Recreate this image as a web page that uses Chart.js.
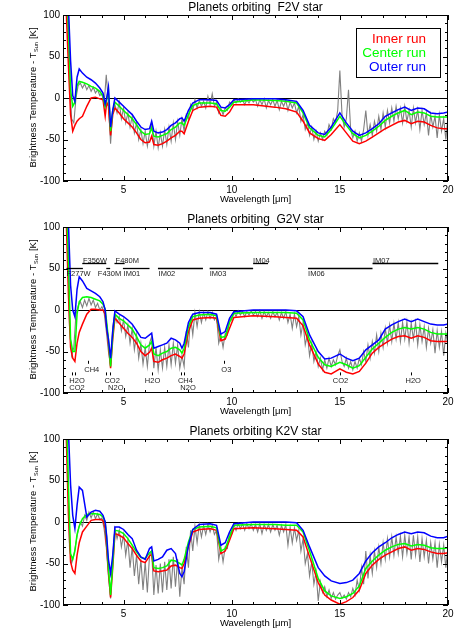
<!DOCTYPE html>
<html>
<head>
<meta charset="utf-8">
<script src="https://cdn.jsdelivr.net/npm/chart.js@4.4.1/dist/chart.umd.min.js"></script>
<style>
html, body { margin: 0; padding: 0; background: #fff; }
canvas { position: absolute; left: 0; }
</style>
</head>
<body>
<canvas id="c0" width="463" height="212" style="top:0"></canvas>
<canvas id="c1" width="463" height="212" style="top:212px"></canvas>
<canvas id="c2" width="463" height="212" style="top:424px"></canvas>
<script>
// wavelength grid for the smoothed runs (um)
const wl = [
  2.25, 2.35, 2.45, 2.55, 2.65, 2.75, 2.85, 2.95,
  3.1, 3.3, 3.5, 3.7, 3.9, 4.05, 4.15, 4.22, 4.3, 4.4, 4.5, 4.6,
  4.8, 5.0, 5.2, 5.4, 5.6, 5.8, 6.0, 6.2, 6.3, 6.4, 6.6, 6.8, 7.0, 7.2, 7.4, 7.6, 7.7, 7.8, 8.0, 8.2, 8.5,
  9.0, 9.3, 9.5, 9.7, 9.9, 10.1, 11, 12, 12.5,
  13, 13.3, 13.6, 14.0, 14.3, 14.6, 15.0, 15.3, 15.6, 15.9, 16.2, 16.5, 16.8, 17.1, 17.4, 17.7, 18.0, 18.3, 18.6, 18.9, 19.2, 19.5, 19.8, 20.0
];

// F2V
const f2vOuter = [
  200, 170, 110, 45, 3, -4, 25, 35,
  30, 25, 22, 18, 12, 6, -7, 0, 13, -35, -15, 0,
  -5, -10, -15, -20, -28, -35, -38, -37, -28, -40, -42, -41, -38, -33, -30, -25, -24, -28, -15, -6, -2,
  -2, -3, -11, -12, -8, -2, -1, -1, -2,
  -4, -15, -33, -42, -44, -35, -18, -30, -40, -45, -42, -37, -31, -22, -18, -14, -11, -15, -12, -13, -18, -19, -18, -17
];
const f2vCenter = [
  190, 150, 85, 10, -10, -5, 15, 20,
  19, 17, 14, 12, 8, 2, -10, -2, 10, -40, -15, -5,
  -10, -15, -20, -25, -32, -40, -44, -43, -36, -46, -47, -45, -43, -38, -35, -30, -30, -33, -20, -9, -6,
  -6, -7, -15, -16, -11, -5, -2, -3, -4,
  -6, -18, -36, -45, -47, -38, -22, -33, -43, -48, -45, -40, -34, -27, -22, -18, -15, -20, -17, -18, -22, -23, -23, -23
];
const f2vInner = [
  180, 105, 40, -20, -40, -33, -28, -25,
  -22, -10, 0, 1, -1, -2, -22, -5, -10, -45, -20, -12,
  -18, -25, -30, -35, -42, -50, -54, -53, -46, -56, -57, -55, -52, -48, -45, -40, -40, -43, -28, -15, -11,
  -10, -11, -21, -22, -17, -8, -8, -11, -13,
  -17, -28, -42, -49, -51, -44, -32, -42, -52, -55, -52, -47, -42, -37, -33, -29, -27, -31, -28, -29, -33, -36, -37, -37
];

// G2V
const g2vOuter = [
  200, 170, 105, 30, 0, -8, 25, 40,
  35, 26, 23, 20, 16, 10, 0, -22, -35, -58, -25, -1,
  -5, -8, -12, -17, -25, -33, -34, -30, -28, -46, -44, -42, -40, -34, -36, -40, -46, -40, -15, -5, -3,
  -3, -5, -29, -26, -10, -2, 0, 0, 0,
  -1, -8, -30, -50, -59, -58, -53, -58, -61, -58, -48, -42, -36, -23, -18, -14, -11, -14, -11, -14, -17, -18, -18, -17
];
const g2vCenter = [
  190, 140, 60, -35, -50, -50, -5, 10,
  15, 16, 15, 13, 11, 7, 1, -15, -35, -68, -30, -5,
  -10, -13, -18, -23, -32, -42, -46, -42, -38, -53, -55, -52, -50, -46, -45, -48, -52, -46, -20, -8, -6,
  -5, -7, -33, -32, -15, -4, -3, -3, -3,
  -4, -12, -36, -57, -66, -68, -63, -66, -70, -67, -57, -47, -40, -33, -27, -23, -21, -23, -21, -23, -27, -29, -29, -29
];
const g2vInner = [
  180, 110, 20, -45, -58, -62, -40, -27,
  -17, -5, 1, 1, 0, 0, -5, -20, -40, -70, -35, -10,
  -16, -22, -28, -33, -40, -50, -55, -51, -46, -62, -63, -60, -58, -55, -53, -56, -58, -53, -26, -12, -10,
  -9, -10, -37, -35, -22, -9, -7, -8, -9,
  -10, -19, -42, -65, -75, -77, -71, -75, -77, -74, -64, -52, -45, -40, -35, -32, -31, -34, -31, -33, -37, -38, -38, -38
];

// K2V
const k2vOuter = [
  200, 170, 110, 45, 8, -8, 20, 42,
  38, 6, 12, 14, 13, 8, 0, -17, -45, -62, -40, -6,
  -6, -9, -15, -20, -34, -42, -45, -32, -30, -47, -45, -42, -34, -32, -38, -62, -66, -60, -28, -9, -3,
  -2, -4, -28, -25, -12, -2, 0, 0, 0,
  -1, -10, -30, -55, -65, -71, -74, -73, -70, -62, -47, -37, -30, -25, -19, -15, -12, -14, -12, -13, -17, -19, -19, -17
];
const k2vCenter = [
  190, 140, 45, -38, -45, -35, -15, -5,
  4, 9, 10, 10, 9, 6, 0, -20, -55, -88, -50, -10,
  -11, -14, -20, -28, -36, -43, -44, -37, -35, -55, -56, -55, -53, -46, -47, -50, -52, -45, -24, -9, -6,
  -5, -7, -35, -32, -18, -4, -3, -3, -4,
  -4, -12, -35, -68, -83, -89, -92, -90, -86, -77, -56, -47, -40, -34, -30, -27, -26, -29, -27, -28, -31, -32, -32, -31
];
const k2vInner = [
  180, 105, 10, -48, -58, -62, -40, -25,
  -12, -5, 2, 3, 3, 2, -8, -30, -60, -91, -55, -14,
  -16, -19, -26, -32, -40, -47, -49, -41, -39, -59, -60, -59, -58, -53, -52, -55, -56, -50, -29, -12, -9,
  -8, -10, -38, -35, -22, -8, -7, -8, -9,
  -10, -18, -42, -73, -88, -94, -99, -96, -91, -82, -62, -52, -45, -40, -36, -32, -30, -34, -32, -33, -36, -38, -38, -37
];

// wavelength grid for the full-resolution spectra (um)
const gx = [
  2.3, 2.4, 2.5, 2.6, 2.7, 2.8, 2.9,
  3.0, 3.1, 3.2, 3.3, 3.4, 3.5, 3.6, 3.7, 3.8, 3.9,
  4.0, 4.1, 4.2, 4.3, 4.4, 4.5, 4.6, 4.7, 4.8, 4.9,
  5.0, 5.1, 5.2, 5.3, 5.4, 5.5, 5.6, 5.7, 5.8, 5.9,
  6.0, 6.1, 6.2, 6.3, 6.4, 6.5, 6.6, 6.7, 6.8, 6.9,
  7.0, 7.1, 7.2, 7.3, 7.4, 7.5, 7.6, 7.7, 7.8, 7.9,
  8.0, 8.1, 8.2, 8.3, 8.4, 8.5, 8.6, 8.7, 8.8, 8.9,
  9.0, 9.1, 9.2, 9.3, 9.4, 9.5, 9.6, 9.7, 9.8, 9.9,
  10.0, 10.1, 10.2, 10.3, 10.4, 10.5, 10.6, 10.7, 10.8, 10.9,
  11.0, 11.1, 11.2, 11.3, 11.4, 11.5, 11.6, 11.7, 11.8, 11.9,
  12.0, 12.1, 12.2, 12.3, 12.4, 12.5, 12.6, 12.7, 12.8, 12.9,
  13.0, 13.1, 13.2, 13.3, 13.4, 13.5, 13.6, 13.7, 13.8, 13.9,
  14.0, 14.1, 14.2, 14.3, 14.4, 14.5, 14.6, 14.7, 14.8, 14.9,
  15.0, 15.1, 15.2, 15.3, 15.4, 15.5, 15.6, 15.7, 15.8, 15.9,
  16.0, 16.1, 16.2, 16.3, 16.4, 16.5, 16.6, 16.7, 16.8, 16.9,
  17.0, 17.1, 17.2, 17.3, 17.4, 17.5, 17.6, 17.7, 17.8, 17.9,
  18.0, 18.1, 18.2, 18.3, 18.4, 18.5, 18.6, 18.7, 18.8, 18.9,
  19.0, 19.1, 19.2, 19.3, 19.4, 19.5, 19.6, 19.7, 19.8, 19.9,
  20.0
];
const f2vSpec = [
  150, 110, 20, -25, -30, 0, 15,
  18, 12, 17, 10, 15, 8, 13, 6, 10, 3,
  5, -8, 28, -5, -55, -15, -8, -18, -5, -25,
  -12, -30, -18, -35, -22, -42, -30, -50, -38, -55,
  -40, -58, -42, -30, -58, -40, -60, -42, -58, -38,
  -56, -35, -52, -30, -50, -28, -45, -25, -40, -20,
  -25, -8, -15, -2, -12, -3, -10, -4, -12, 2,
  -8, 5, -10, -5, -18, -12, -20, -12, -15, -5,
  -8, -2, -6, -1, -5, -2, -8, -2, -6, -1,
  -5, -2, -10, -2, -8, -1, -12, -3, -8, -2,
  -10, -3, -14, -4, -10, -3, -15, -5, -12, -6,
  -18, -10, -28, -20, -38, -30, -45, -35, -50, -40,
  -52, -42, -50, -40, -45, -32, -38, -25, -30, -15,
  33, -20, -35, -25, 10, -38, -48, -40, -52, -42,
  -52, -38, -15, -45, -32, -45, -28, -40, -22, -38,
  -18, -35, -15, -30, -12, -28, -10, -25, -12, -30,
  -10, -28, -15, -35, -12, -30, -14, -38, -15, -32,
  -18, -45, -20, -35, -22, -48, -20, -40, -25, -50,
  -22
];
const g2vSpec = [
  150, 100, -20, -55, -45, -5, 5,
  10, 3, 12, 5, 14, 6, 12, 3, 8, 0,
  4, -3, -25, -50, -68, -20, -5, -15, -8, -25,
  -12, -32, -18, -40, -22, -48, -30, -58, -40, -65,
  -45, -68, -40, -32, -70, -45, -72, -48, -70, -45,
  -68, -42, -66, -40, -64, -42, -70, -55, -68, -25,
  -45, -8, -30, -3, -20, -2, -15, -3, -12, -2,
  -10, -3, -12, -8, -40, -30, -45, -28, -30, -10,
  -12, -2, -8, -1, -6, -2, -8, -2, -6, -1,
  -6, -2, -8, -1, -10, -2, -8, -3, -10, -2,
  -8, -3, -12, -3, -10, -2, -15, -5, -22, -5,
  -20, -8, -30, -15, -42, -30, -55, -40, -62, -50,
  -68, -58, -72, -60, -70, -58, -68, -60, -66, -55,
  -48, -62, -68, -58, -70, -62, -72, -62, -70, -58,
  -66, -50, -62, -42, -58, -38, -52, -30, -50, -28,
  -45, -22, -40, -18, -38, -16, -35, -15, -38, -15,
  -35, -14, -40, -16, -35, -15, -42, -18, -38, -20,
  -45, -22, -40, -24, -52, -25, -45, -26, -55, -28,
  -42
];
const k2vSpec = [
  150, 90, -30, -50, -40, -25, -10,
  0, -5, 8, 2, 12, 5, 12, 4, 10, 3,
  5, -8, -30, -65, -92, -40, -8, -20, -10, -30,
  -15, -40, -22, -55, -30, -65, -40, -75, -45, -82,
  -48, -85, -40, -35, -88, -52, -86, -50, -85, -48,
  -82, -45, -80, -42, -78, -45, -90, -55, -75, -30,
  -55, -10, -35, -5, -25, -3, -18, -4, -15, -3,
  -12, -4, -15, -10, -45, -30, -48, -30, -32, -12,
  -14, -3, -10, -2, -8, -2, -10, -2, -8, -2,
  -10, -3, -12, -2, -14, -3, -10, -3, -12, -3,
  -10, -4, -16, -4, -12, -3, -28, -6, -25, -7,
  -22, -10, -35, -20, -50, -38, -65, -48, -75, -60,
  -95, -72, -85, -78, -90, -82, -92, -85, -93, -88,
  -85, -92, -88, -93, -85, -90, -80, -88, -70, -82,
  -55, -75, -35, -68, -40, -62, -35, -55, -30, -50,
  -25, -45, -20, -42, -18, -40, -18, -38, -17, -42,
  -16, -38, -18, -45, -16, -40, -18, -48, -20, -42,
  -22, -50, -25, -45, -25, -55, -27, -48, -28, -55,
  -30
];

// axis ticks
const xTicks = [5, 10, 15, 20];
const yTicks = [-100, -50, 0, 50, 100];

// JWST filter bands drawn on the G2V panel
const bandName  = ['F277W', 'F356W', 'F430M', 'F480M', 'IM01', 'IM02', 'IM03', 'IM04', 'IM06', 'IM07'];
const bandFrom  = [2.36, 3.09, 4.2, 4.58, 4.97, 6.59, 8.98, 10.99, 13.53, 16.51];
const bandTo    = [3.12, 4.2, 4.38, 5.05, 6.2, 8.67, 10.99, 11.68, 16.51, 19.55];
const bandLevel = [50, 56, 50, 56, 50, 50, 50, 56, 50, 56];
const bandTextX = [2.36, 3.12, 3.81, 4.63, 5.0, 6.62, 8.98, 10.99, 13.53, 16.53];

// molecule labels on the G2V panel
const molText = ['H2O', 'CO2', 'CH4', 'CO2', 'N2O', 'H2O', 'CH4', 'N2O', 'O3', 'CO2', 'H2O'];
const molX    = [2.85, 2.85, 3.53, 4.47, 4.64, 6.34, 7.86, 7.98, 9.75, 15.03, 18.39];
const molY    = [-85, -94, -72, -85, -94, -85, -85, -94, -72, -85, -85];
const molTickX = [2.6, 2.75, 3.35, 4.2, 4.38, 6.31, 7.67, 7.78, 9.63, 15.0, 18.31];
const molTickY = [-77, -77, -63, -77, -77, -77, -77, -77, -63, -77, -77];

const FONT = '"Liberation Sans", Arial, Helvetica, sans-serif';
Chart.defaults.font.family = FONT;
Chart.defaults.color = '#000';

const idlFrame = {
  id: 'idlFrame',
  beforeDatasetsDraw(chart) {
    const { ctx, chartArea: a, scales: { y } } = chart;
    const y0 = Math.round(y.getPixelForValue(0)) + 0.5;
    ctx.save();
    ctx.strokeStyle = '#000';
    ctx.lineWidth = 1;
    ctx.beginPath();
    ctx.moveTo(a.left, y0);
    ctx.lineTo(a.right, y0);
    ctx.stroke();
    ctx.restore();
  },
  afterDatasetsDraw(chart) {
    const { ctx, chartArea: a, scales: { x, y } } = chart;
    ctx.save();
    ctx.strokeStyle = '#000';
    ctx.lineWidth = 1;
    ctx.strokeRect(Math.round(a.left) + 0.5, Math.round(a.top) + 0.5,
                   Math.round(a.right - a.left) - 1, Math.round(a.bottom - a.top) - 1);
    ctx.beginPath();
    // y ticks, every 10 with major at 50
    for (let v = -100; v <= 100; v += 10) {
      const py = Math.round(y.getPixelForValue(v)) + 0.5;
      const len = v % 50 === 0 ? 5 : 3;
      ctx.moveTo(a.left, py); ctx.lineTo(a.left + len, py);
      ctx.moveTo(a.right, py); ctx.lineTo(a.right - len, py);
    }
    // x ticks, every 1 um with major at 5
    for (let v = Math.ceil(x.min); v <= x.max; v++) {
      const px = Math.round(x.getPixelForValue(v)) + 0.5;
      const len = v % 5 === 0 ? 5 : 3;
      ctx.moveTo(px, a.bottom); ctx.lineTo(px, a.bottom - len);
      ctx.moveTo(px, a.top); ctx.lineTo(px, a.top + len);
    }
    ctx.stroke();
    ctx.restore();
  },
  afterDraw(chart) {
    const { ctx, chartArea: a } = chart;
    // y axis label with subscript
    const main = 'Brightness Temperature - T', sub = 'Sun', tail = ' [K]';
    ctx.save();
    ctx.fillStyle = '#000';
    ctx.translate(33, (a.top + a.bottom) / 2);
    ctx.rotate(-Math.PI / 2);
    ctx.textBaseline = 'middle';
    ctx.font = '9.5px ' + FONT;
    const w1 = ctx.measureText(main).width, w3 = ctx.measureText(tail).width;
    ctx.font = '5.5px ' + FONT;
    const w2 = ctx.measureText(sub).width;
    let sx = -(w1 + w2 + w3) / 2;
    ctx.font = '9.5px ' + FONT;
    ctx.fillText(main, sx, 0);
    ctx.font = '5.5px ' + FONT;
    ctx.fillText(sub, sx + w1 + 0.5, 3);
    ctx.font = '9.5px ' + FONT;
    ctx.fillText(tail, sx + w1 + w2 + 1, 0);
    ctx.restore();
  }
};

const runLegend = {
  id: 'runLegend',
  afterDraw(chart, args, opts) {
    if (!opts.show) return;
    const { ctx, chartArea: a } = chart;
    const ds = chart.data.datasets;
    ctx.save();
    ctx.fillStyle = '#fff';
    ctx.fillRect(a.right - 92, a.top + 13, 84, 49);
    ctx.strokeStyle = '#000';
    ctx.lineWidth = 1;
    ctx.strokeRect(a.right - 91.5, a.top + 13.5, 84, 49);
    ctx.font = '13.5px ' + FONT;
    ctx.textAlign = 'right';
    ctx.textBaseline = 'alphabetic';
    [2, 1, 0].forEach((k, i) => {
      ctx.fillStyle = ds[k].borderColor;
      ctx.fillText(ds[k].label, a.right - 22, a.top + 27.5 + i * 14);
    });
    ctx.restore();
  }
};

const specNotes = {
  id: 'specNotes',
  afterDatasetsDraw(chart, args, opts) {
    if (!opts.show) return;
    const { ctx, scales: { x, y } } = chart;
    ctx.save();
    ctx.strokeStyle = '#000';
    ctx.fillStyle = '#222';
    ctx.font = '7.5px ' + FONT;
    ctx.lineWidth = 1.3;
    bandName.forEach((name, i) => {
      const py = y.getPixelForValue(bandLevel[i]);
      ctx.beginPath();
      ctx.moveTo(x.getPixelForValue(bandFrom[i]), py);
      ctx.lineTo(x.getPixelForValue(bandTo[i]), py);
      ctx.stroke();
      const up = bandLevel[i] > 50;
      ctx.textBaseline = up ? 'alphabetic' : 'top';
      ctx.fillText(name, x.getPixelForValue(bandTextX[i]), up ? py - 0.5 : py + 2);
    });
    ctx.lineWidth = 1;
    ctx.beginPath();
    molTickX.forEach((v, i) => {
      const px = Math.round(x.getPixelForValue(v)) + 0.5;
      const py = y.getPixelForValue(molTickY[i]);
      ctx.moveTo(px, py - 1.5);
      ctx.lineTo(px, py + 1.5);
    });
    ctx.stroke();
    ctx.textAlign = 'center';
    ctx.textBaseline = 'middle';
    molText.forEach((t, i) => {
      ctx.fillText(t, x.getPixelForValue(molX[i]), y.getPixelForValue(molY[i]));
    });
    ctx.restore();
  }
};

const pts = (xs, ys) => xs.map((v, i) => ({ x: v, y: ys[i] }));

const panels = [
  { id: 'c0', title: 'Planets orbiting  F2V star', inner: f2vInner, center: f2vCenter, outer: f2vOuter, spec: f2vSpec, legend: true, notes: false },
  { id: 'c1', title: 'Planets orbiting  G2V star', inner: g2vInner, center: g2vCenter, outer: g2vOuter, spec: g2vSpec, legend: false, notes: true },
  { id: 'c2', title: 'Planets orbiting K2V star', inner: k2vInner, center: k2vCenter, outer: k2vOuter, spec: k2vSpec, legend: false, notes: false }
];

panels.forEach(p => {
  new Chart(document.getElementById(p.id), {
    type: 'line',
    data: {
      datasets: [
        { label: 'Outer run', data: pts(wl, p.outer), borderColor: '#0000ff', borderWidth: 1.5 },
        { label: 'Center run', data: pts(wl, p.center), borderColor: '#00ff00', borderWidth: 1.5 },
        { label: 'Inner run', data: pts(wl, p.inner), borderColor: '#ff0000', borderWidth: 1.5 },
        { label: 'Spectrum', data: pts(gx, p.spec), borderColor: '#808080', borderWidth: 1.1 }
      ]
    },
    options: {
      responsive: false,
      animation: false,
      events: [],
      elements: { point: { radius: 0 }, line: { tension: 0 } },
      datasets: { line: { clip: 0 } },
      layout: { padding: { left: 0, right: 15, top: 0, bottom: 0 } },
      plugins: {
        legend: { display: false },
        tooltip: { enabled: false },
        title: {
          display: true, text: p.title, fullSize: false, color: '#000',
          font: { size: 12, weight: 'normal', lineHeight: 1.25 },
          padding: { top: 0, bottom: 0 }
        },
        runLegend: { show: p.legend },
        specNotes: { show: p.notes }
      },
      scales: {
        x: {
          type: 'linear', min: 2.2, max: 20,
          grid: { display: false, drawTicks: false },
          border: { display: false },
          afterBuildTicks: s => { s.ticks = xTicks.map(v => ({ value: v })); },
          afterFit: s => { s.height = 31; },
          ticks: { font: { size: 10 }, padding: 3, maxRotation: 0, autoSkip: false },
          title: { display: true, text: 'Wavelength [μm]', font: { size: 9.5 }, padding: { top: 0, bottom: 7 } }
        },
        y: {
          type: 'linear', min: -100, max: 100,
          grid: { display: false, drawTicks: false },
          border: { display: false },
          afterBuildTicks: s => { s.ticks = yTicks.map(v => ({ value: v })); },
          afterFit: s => { s.width = 63; },
          ticks: { font: { size: 10 }, padding: 3 }
        }
      }
    },
    plugins: [idlFrame, runLegend, specNotes]
  });
});
</script>
</body>
</html>
